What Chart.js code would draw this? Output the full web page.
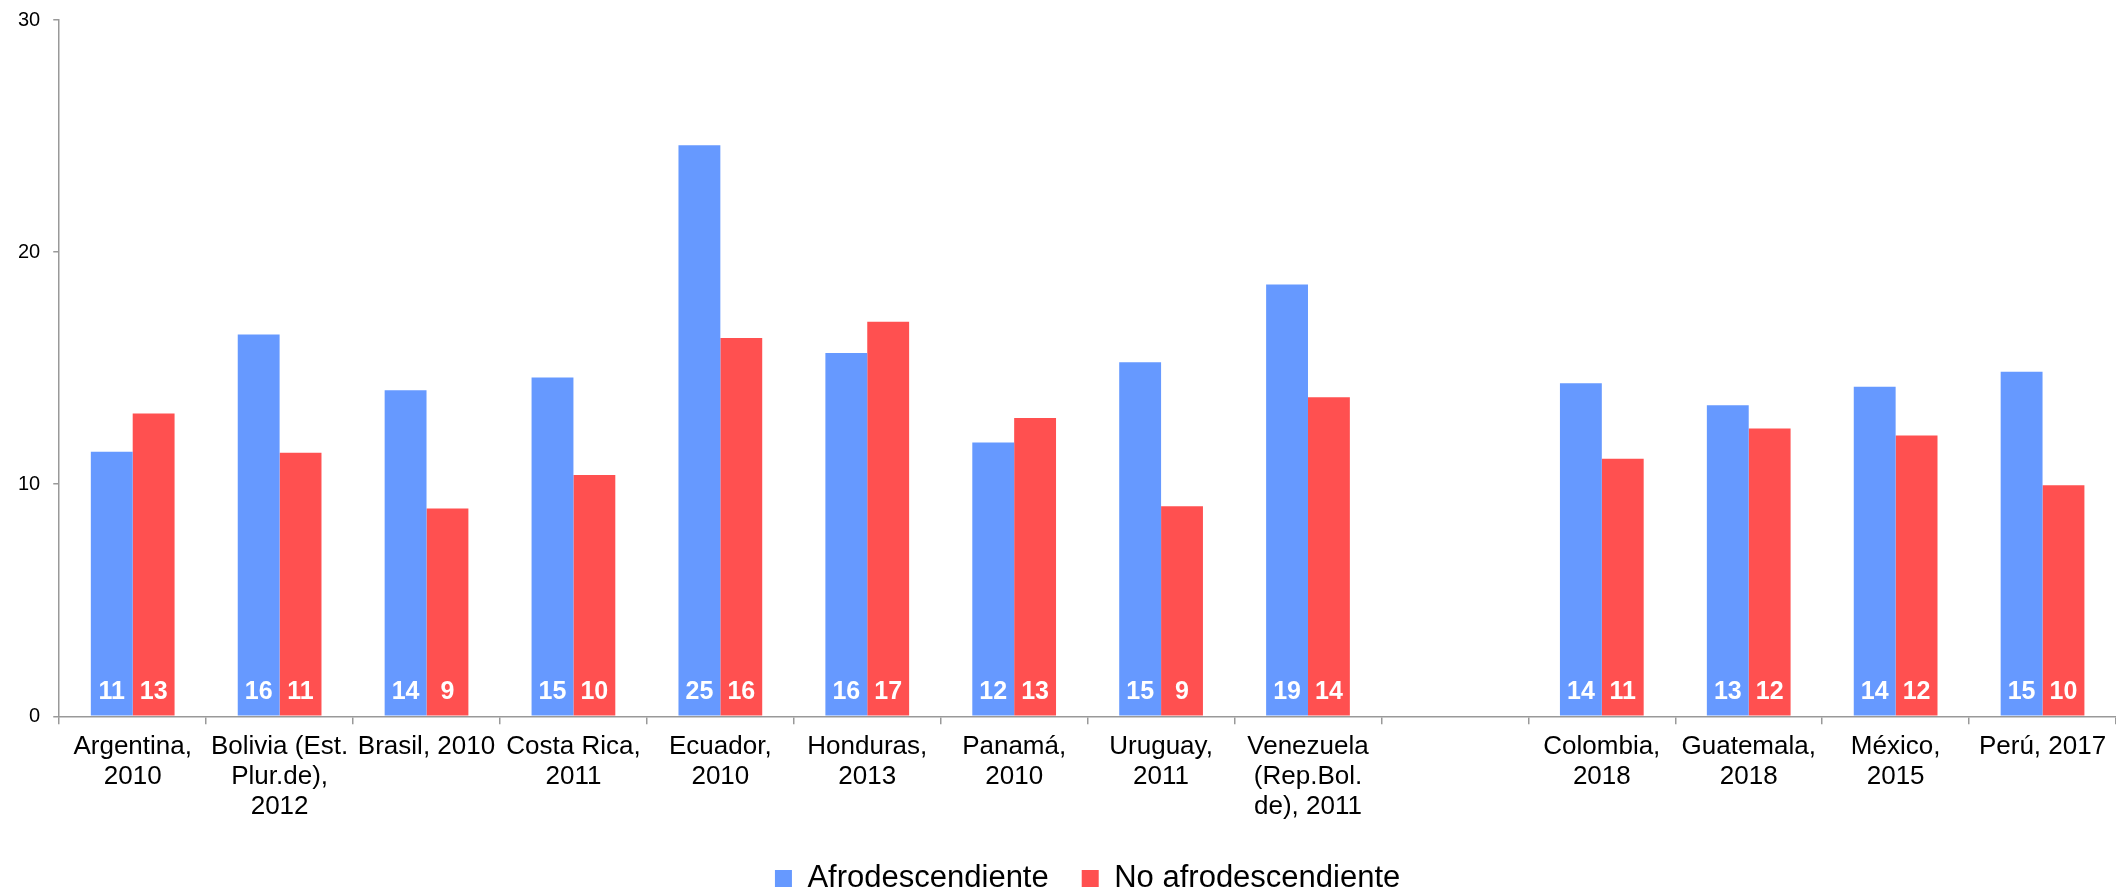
<!DOCTYPE html>
<html>
<head>
<meta charset="utf-8">
<script src="https://cdn.jsdelivr.net/npm/chart.js@4"></script>
<style>
    html, body { margin: 0; padding: 0; background: #fff; overflow: hidden; }
    #wrap { position: relative; width: 2116px; height: 904px; }
</style>
</head>
<body>
<div id="wrap"><canvas id="chart"></canvas></div>
<script>
// Categories (multi-line labels), empty slot separates the two groups
const categories = [
    ['Argentina,', '2010'],
    ['Bolivia (Est.', 'Plur.de),', '2012'],
    ['Brasil, 2010'],
    ['Costa Rica,', '2011'],
    ['Ecuador,', '2010'],
    ['Honduras,', '2013'],
    ['Panamá,', '2010'],
    ['Uruguay,', '2011'],
    ['Venezuela', '(Rep.Bol.', 'de), 2011'],
    '',
    ['Colombia,', '2018'],
    ['Guatemala,', '2018'],
    ['México,', '2015'],
    ['Perú, 2017']
];

const afro   = [11.4, 16.45, 14.05, 14.6, 24.6, 15.65, 11.8, 15.25, 18.6, null, 14.35, 13.4, 14.2, 14.85];
const noAfro = [13.05, 11.35, 8.95, 10.4, 16.3, 17.0, 12.85, 9.05, 13.75, null, 11.1, 12.4, 12.1, 9.95];

const seriesNames = ['Afrodescendiente', 'No afrodescendiente'];
const seriesColors = ['#6699FF', '#FF5050'];
const yTicks = [0, 10, 20, 30];

// White rounded values drawn at the foot of each bar
const barValueLabels = {
    id: 'barValueLabels',
    afterDatasetsDraw(chart) {
        const ctx = chart.ctx;
        const base = chart.scales.y.getPixelForValue(0);
        ctx.save();
        ctx.fillStyle = '#fff';
        ctx.font = "bold 25px 'Liberation Sans', Arial, sans-serif";
        ctx.textAlign = 'center';
        ctx.textBaseline = 'alphabetic';
        chart.data.datasets.forEach((ds, i) => {
            chart.getDatasetMeta(i).data.forEach((bar, j) => {
                const v = ds.data[j];
                if (v == null) return;
                ctx.fillText(Math.round(v), bar.x, base - 17);
            });
        });
        ctx.restore();
    }
};

const axisFont = "'Liberation Sans', Arial, sans-serif";

new Chart(document.getElementById('chart'), {
    type: 'bar',
    data: {
        labels: categories,
        datasets: [
            { label: seriesNames[0], data: afro, backgroundColor: seriesColors[0] },
            { label: seriesNames[1], data: noAfro, backgroundColor: seriesColors[1] }
        ]
    },
    options: {
        responsive: true,
        maintainAspectRatio: false,
        animation: false,
        categoryPercentage: 0.57,
        barPercentage: 1.0,
        layout: { padding: { top: 0, left: 5, right: 0, bottom: 0 } },
        plugins: {
            tooltip: { enabled: false },
            legend: {
                position: 'bottom',
                fullSize: false,
                labels: {
                    color: '#000',
                    font: { family: axisFont, size: 31 },
                    boxWidth: 17,
                    boxHeight: 17,
                    padding: 33
                }
            }
        },
        scales: {
            x: {
                border: { color: '#999', width: 1.5 },
                grid: { drawOnChartArea: false, color: '#999', tickLength: 8, lineWidth: 1.5 },
                ticks: {
                    color: '#000',
                    font: { family: axisFont, size: 26, lineHeight: 1.15 },
                    padding: 8,
                    maxRotation: 0,
                    autoSkip: false
                }
            },
            y: {
                min: yTicks[0],
                max: yTicks[yTicks.length - 1],
                border: { color: '#999', width: 1.5 },
                grid: { drawOnChartArea: false, color: '#999', tickLength: 6, lineWidth: 1.5 },
                ticks: {
                    stepSize: yTicks[1] - yTicks[0],
                    color: '#000',
                    // small lineHeight keeps the top tick close to the canvas edge
                    font: { family: axisFont, size: 20, lineHeight: 0.7 },
                    padding: 13
                }
            }
        }
    },
    plugins: [barValueLabels]
});
</script>
</body>
</html>
